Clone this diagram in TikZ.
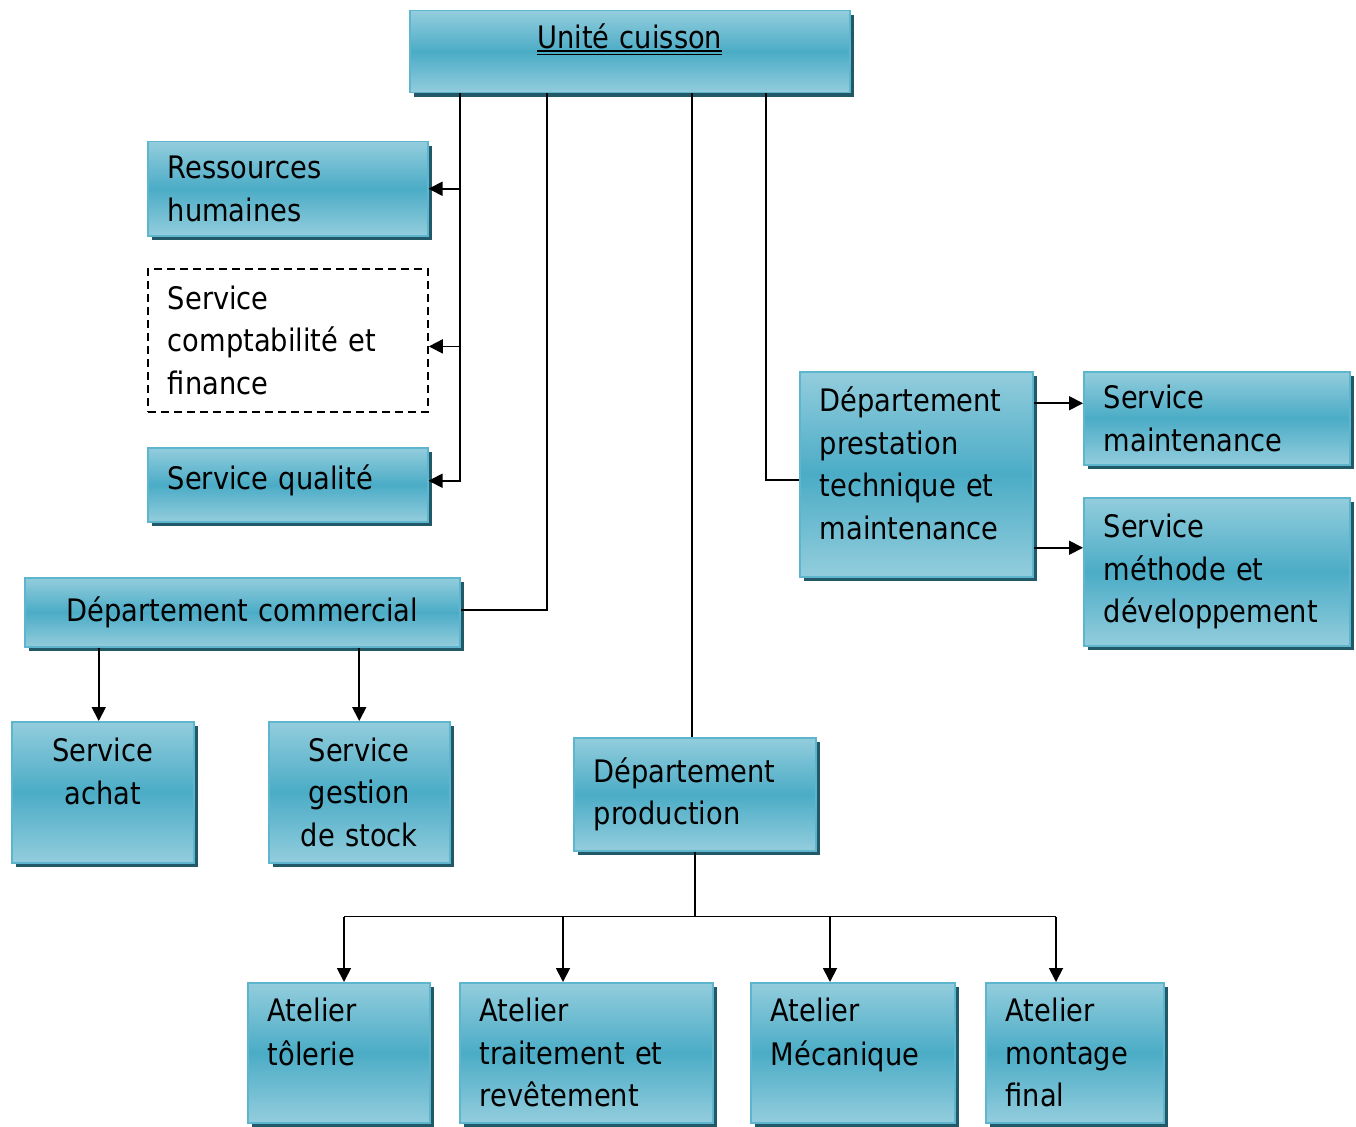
\documentclass[tikz,border=0pt]{standalone}
\usepackage{fontspec}
\setmainfont{DejaVu Sans}[FakeStretch=0.88]
\usetikzlibrary{arrows.meta,shadows,calc}
\hyphenpenalty=10000
\exhyphenpenalty=10000
\newcommand\dblunder[1]{\setbox0\hbox{#1}\rlap{\rule[-3pt]{\wd0}{1.5pt}}\rlap{\rule[-6.5pt]{\wd0}{1.5pt}}\box0}
\definecolor{teallight}{HTML}{93CDDD}
\definecolor{tealmid}{HTML}{4BACC6}
\definecolor{tealedge}{HTML}{5DB6CD}
\definecolor{tealshadow}{HTML}{215968}
\tikzset{
  unit/.style={rectangle, anchor=north west, draw=tealedge, line width=1.5pt,
    top color=teallight, bottom color=teallight, middle color=tealmid,
    drop shadow={shadow xshift=4pt, shadow yshift=-4pt, fill=tealshadow, opacity=1},
    inner xsep=20pt, inner ysep=0pt, align=left,
    font=\fontsize{31}{42.5}\selectfont},
  open unit/.style={rectangle, anchor=north west, draw=black, fill=white,
    line width=1.8pt, dash pattern=on 8pt off 5pt,
    inner xsep=20pt, inner ysep=0pt, align=left,
    font=\fontsize{31}{42.5}\selectfont},
  link/.style={line width=1.8pt},
  arrow/.style={link, -{Triangle[length=14pt,width=14pt]}},
}
\begin{document}
\begin{tikzpicture}[x=1pt,y=-1pt]
  \useasboundingbox (0,0) rectangle (1356,1126);
  %% direction
  \node[unit, minimum width=440pt, minimum height=82pt, text width=400pt, align=center] (cuisson) at (409,10)
    {\raisebox{12pt}[\height][\depth]{\dblunder{Unité cuisson}}};
  %% services
  \node[unit, minimum width=280pt, minimum height=94pt, text width=240pt] (rh) at (147,141) {Ressources\\humaines};
  \node[open unit, minimum width=280pt, minimum height=143pt, text width=240pt] (compta) at (147,268) {Service\\comptabilité et\\finance};
  \node[unit, minimum width=280pt, minimum height=74pt, text width=240pt] (qualite) at (147,447) {Service qualité\\[-28pt]\mbox{}};
  %% commercial
  \node[unit, minimum width=435pt, minimum height=69pt, text width=395pt, align=center] (commercial) at (24,577) {Département commercial};
  \node[unit, minimum width=182pt, minimum height=141pt, text width=142pt, align=center] (achat) at (11,721) {Service\\achat\\\mbox{}};
  \node[unit, minimum width=181pt, minimum height=141pt, text width=141pt, align=center] (gestion) at (268,721) {Service\\gestion\\de stock};
  %% technique
  \node[unit, minimum width=233pt, minimum height=205pt, text width=193pt] (prestation) at (799,371) {Département\\prestation\\technique et\\maintenance\\[-20pt]\mbox{}};
  \node[unit, minimum width=266pt, minimum height=93pt, text width=226pt] (maintenance) at (1083,371) {Service\\maintenance};
  \node[unit, minimum width=266pt, minimum height=148pt, text width=226pt] (methode) at (1083,497) {Service\\méthode et\\développement};
  %% production
  \node[unit, minimum width=242pt, minimum height=113pt, text width=202pt] (production) at (573,737) {Département\\production};
  \node[unit, minimum width=182pt, minimum height=140pt, text width=142pt] (tolerie) at (247,982) {Atelier\\[2pt]tôlerie\\\mbox{}};
  \node[unit, minimum width=253pt, minimum height=140pt, text width=213pt] (traitement) at (459,982) {Atelier\\traitement et\\revêtement};
  \node[unit, minimum width=204pt, minimum height=140pt, text width=164pt] (mecanique) at (750,982) {Atelier\\[2pt]Mécanique\\\mbox{}};
  \node[unit, minimum width=178pt, minimum height=140pt, text width=138pt] (montage) at (985,982) {Atelier\\montage\\final};
  %% trunks
  \coordinate (t1) at ([xshift=51pt]cuisson.south west);
  \coordinate (t2) at ([xshift=138pt]cuisson.south west);
  \coordinate (t3) at ([xshift=283pt]cuisson.south west);
  \coordinate (t4) at ([xshift=357pt]cuisson.south west);
  \draw[arrow] (t1) |- ([yshift=4pt]qualite.east);
  \draw[arrow] (t1 |- rh.east) -- (rh.east);
  \draw[arrow] ([yshift=-6pt]compta.east -| t1) -- ([yshift=-6pt]compta.east);
  \draw[link] (t2) |- ([yshift=2pt]commercial.east);
  \draw[link] (t3) -- (t3 |- production.north);
  \draw[link] (t4) |- ([yshift=-6pt]prestation.west);
  %% branches
  \draw[arrow] ([yshift=15pt]maintenance.west -| prestation.east) -- ([yshift=15pt]maintenance.west);
  \draw[arrow] ([yshift=24pt]methode.west -| prestation.east) -- ([yshift=24pt]methode.west);
  \draw[arrow] ([xshift=-4pt]achat.north |- commercial.south) -- ([xshift=-4pt]achat.north);
  \draw[arrow] (gestion.north |- commercial.south) -- (gestion.north);
  \coordinate (bus) at ([yshift=-65pt]production.south);
  \draw[link] (production.south) -- (bus);
  \draw[link] ([xshift=97pt]tolerie.north west |- bus) -- ([xshift=71pt]montage.north west |- bus);
  \foreach \n/\d in {tolerie/97,traitement/104,mecanique/80,montage/71}
    \draw[arrow] ([xshift=\d pt]\n.north west |- bus) -- ([xshift=\d pt]\n.north west);
\end{tikzpicture}
\end{document}
